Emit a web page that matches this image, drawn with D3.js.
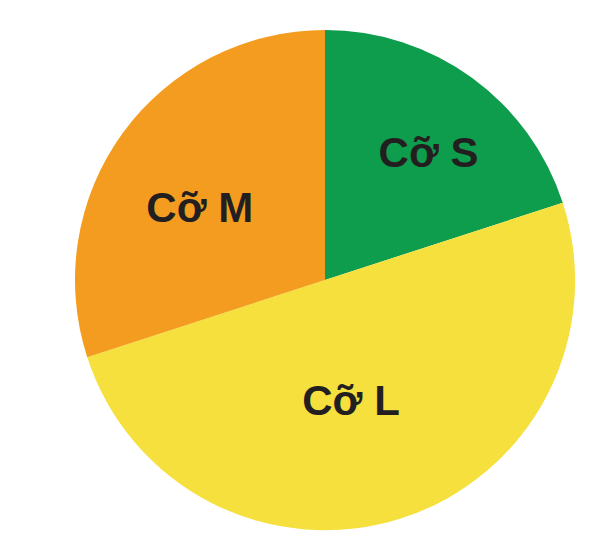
<!DOCTYPE html>
<html>
<head>
<meta charset="utf-8">
<script src="https://cdn.jsdelivr.net/npm/d3@7"></script>
<style>
  body { margin: 0; background: #fff; }
</style>
</head>
<body>
<div id="plot"></div>
<script>
// slice data (percent)
var sizes = ["Cỡ S", "Cỡ L", "Cỡ M"];
var shares = [20, 50, 30];
var colors = ["#0e9c4d", "#f6e03e", "#f39c1f"];

var width = 595, height = 558;
var cx = 325, cy = 280, radius = 250;

var svg = d3.select("#plot")
  .append("svg")
    .attr("width", width)
    .attr("height", height)
  .append("g")
    .attr("transform", "translate(" + cx + "," + cy + ")");

var data = sizes.map(function(d, i) { return {label: d, value: shares[i], color: colors[i]}; });

var pie = d3.pie()
  .sort(null)
  .value(function(d) { return d.value; });

var arc = d3.arc()
  .innerRadius(0)
  .outerRadius(radius);

var arcs = pie(data);

svg.selectAll("path")
  .data(arcs)
  .enter()
  .append("path")
    .attr("d", arc)
    .attr("fill", function(d) { return d.data.color; });

// labels sit at different distances from the centre in the original
var labelRadius = {"Cỡ S": 0.66, "Cỡ L": 0.49, "Cỡ M": 0.58};
var labelTurn = {"Cỡ S": 0.05, "Cỡ L": 0.1, "Cỡ M": -0.1};

svg.selectAll("text")
  .data(arcs)
  .enter()
  .append("text")
    .attr("transform", function(d) {
      var a = (d.startAngle + d.endAngle) / 2 + labelTurn[d.data.label];
      var r = radius * labelRadius[d.data.label];
      return "translate(" + (Math.sin(a) * r) + "," + (-Math.cos(a) * r) + ")";
    })
    .attr("text-anchor", "middle")
    .attr("dy", "0.36em")
    .style("font-family", "'Liberation Sans', Arial, sans-serif")
    .style("font-weight", "bold")
    .style("font-size", "42px")
    .style("fill", "#231f20")
    .text(function(d) { return d.data.label; });
</script>
</body>
</html>
